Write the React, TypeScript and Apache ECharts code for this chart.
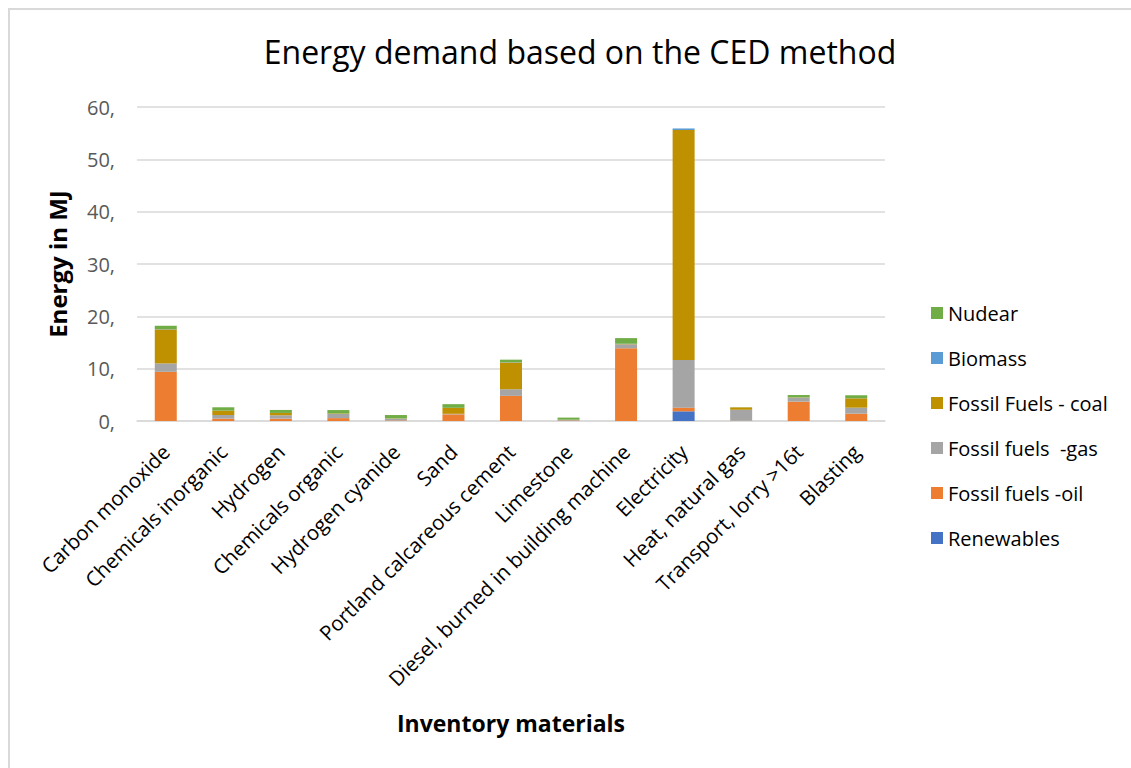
import React, { useEffect, useRef } from "react";
import * as echarts from "echarts";

const categories = [
  "Carbon monoxide",
  "Chemicals inorganic",
  "Hydrogen",
  "Chemicals organic",
  "Hydrogen cyanide",
  "Sand",
  "Portland calcareous cement",
  "Limestone",
  "Diesel, burned in building machine",
  "Electricity",
  "Heat, natural gas",
  "Transport, lorry >16t",
  "Blasting",
];

const renewables = [0, 0, 0, 0, 0, 0, 0, 0, 0, 1.85, 0, 0, 0];
const fossilOil = [9.4, 0.45, 0.45, 0.55, 0.1, 1.27, 4.8, 0.1, 13.9, 0.7, 0.05, 3.7, 1.4];
const fossilGas = [1.6, 0.7, 0.64, 0.8, 0.35, 0.1, 1.27, 0.15, 0.76, 9.1, 2.1, 0.76, 1.15];
const fossilCoal = [6.5, 0.83, 0.45, 0.1, 0.05, 1.15, 5.1, 0, 0.05, 43.95, 0.45, 0.05, 1.78];
const biomass = [0.05, 0, 0, 0, 0, 0, 0.05, 0, 0.05, 0.3, 0, 0, 0.02];
const nuclear = [0.65, 0.64, 0.57, 0.64, 0.64, 0.7, 0.5, 0.4, 1.08, 0, 0.03, 0.45, 0.57];

const yTicks = [0, 10, 20, 30, 40, 50, 60];

const seriesDefs = [
  { name: "Renewables", data: renewables, color: "#4472C4" },
  { name: "Fossil fuels -oil", data: fossilOil, color: "#ED7D31" },
  { name: "Fossil fuels  -gas", data: fossilGas, color: "#A5A5A5" },
  { name: "Fossil Fuels - coal", data: fossilCoal, color: "#BF9000" },
  { name: "Biomass", data: biomass, color: "#5B9BD5" },
  { name: "Nudear", data: nuclear, color: "#70AD47" },
];

const FONT = "'Open Sans', sans-serif";

export default function App() {
  const ref = useRef<HTMLDivElement>(null);

  useEffect(() => {
    if (!ref.current) return;
    const chart = echarts.init(ref.current, null, { renderer: "svg" });
    chart.setOption({
      animation: false,
      backgroundColor: "#ffffff",
      textStyle: { fontFamily: FONT },
      title: {
        text: "Energy demand based on the CED method",
        left: 575,
        top: 30,
        textAlign: "center",
        textStyle: { fontFamily: FONT, fontSize: 32, fontWeight: "normal", color: "#000000" },
      },
      graphic: [
        {
          type: "rect",
          shape: { x: 9, y: 9, width: 1140, height: 780 },
          style: { fill: "none", stroke: "#D9D9D9", lineWidth: 2 },
          silent: true,
        },
      ],
      legend: {
        orient: "vertical",
        left: 926,
        top: 298,
        itemWidth: 12,
        itemHeight: 12,
        itemGap: 25,
        icon: "rect",
        data: seriesDefs.map((s) => s.name).reverse(),
        textStyle: { fontFamily: FONT, fontSize: 20, color: "#000000", lineHeight: 20 },
      },
      grid: { left: 137, right: 246, top: 107, bottom: 347, containLabel: false },
      xAxis: {
        type: "category",
        data: categories,
        name: "Inventory materials",
        nameLocation: "middle",
        nameGap: 290,
        nameTextStyle: { fontFamily: FONT, fontSize: 23, fontWeight: "bold", color: "#000000" },
        axisTick: { show: false },
        axisLine: { lineStyle: { color: "#D9D9D9", width: 1.5 } },
        axisLabel: {
          interval: 0,
          rotate: 45,
          margin: 27,
          fontFamily: FONT,
          fontSize: 20.5,
          color: "#000000",
        },
      },
      yAxis: {
        type: "value",
        min: 0,
        max: 60,
        interval: 10,
        name: "Energy in MJ",
        nameLocation: "middle",
        nameRotate: 90,
        nameGap: 68,
        nameTextStyle: { fontFamily: FONT, fontSize: 24, fontWeight: "bold", color: "#000000" },
        axisLine: { show: false },
        axisTick: { show: false },
        splitLine: { lineStyle: { color: "#D9D9D9", width: 1.5 } },
        axisLabel: {
          margin: 22,
          fontFamily: FONT,
          fontSize: 20,
          color: "#595959",
          formatter: (v: number) => (yTicks.includes(v) ? `${v},` : ""),
        },
      },
      series: seriesDefs.map((s) => ({
        name: s.name,
        type: "bar",
        stack: "total",
        barWidth: 22,
        data: s.data,
        itemStyle: { color: s.color },
      })),
    });
    return () => chart.dispose();
  }, []);

  return (
    <div
      ref={ref}
      style={{ position: "absolute", left: 0, top: 0, width: 1131, height: 768 }}
    />
  );
}
